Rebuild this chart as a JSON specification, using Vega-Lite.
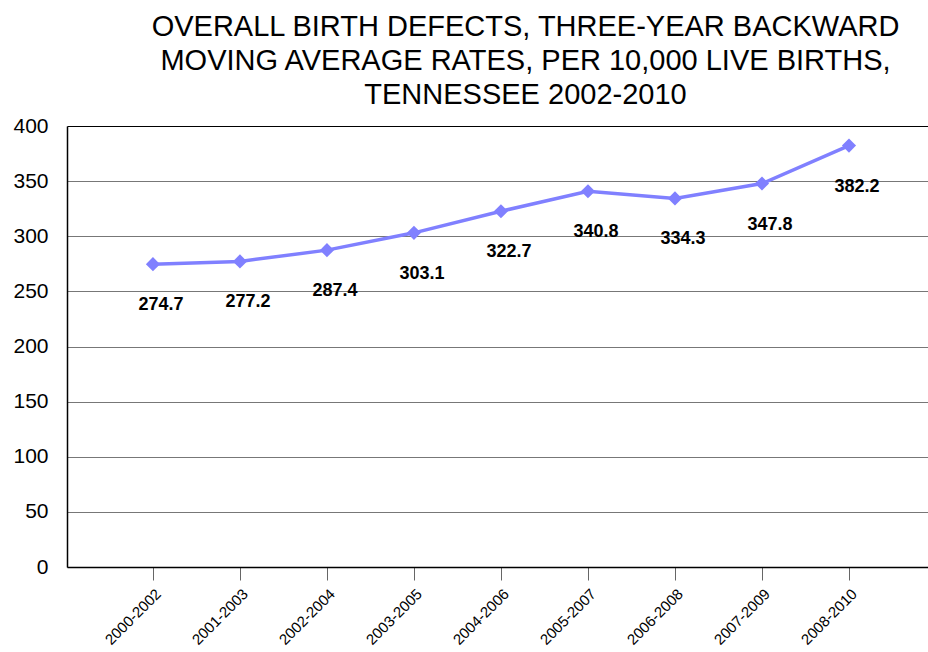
{
  "$schema": "https://vega.github.io/schema/vega-lite/v6.json",
  "width": 861,
  "height": 441,
  "autosize": {"type": "none"},
  "padding": {"left": 67, "top": 126, "right": 0, "bottom": 85},
  "background": "white",
  "title": {
    "text": ["OVERALL BIRTH DEFECTS, THREE-YEAR BACKWARD", "MOVING AVERAGE RATES, PER 10,000 LIVE BIRTHS,", "TENNESSEE 2002-2010"],
    "font": "Liberation Sans",
    "fontSize": 29,
    "fontWeight": "normal",
    "color": "black",
    "anchor": "middle",
    "dx": 28,
    "offset": 5,
    "lineHeight": 34
  },
  "config": {
    "view": {"stroke": null},
    "axis": {"labelFont": "Liberation Sans", "labelColor": "black"}
  },
  "data": {
    "values": [
      {"period": "2000-2002", "rate": 274.7},
      {"period": "2001-2003", "rate": 277.2},
      {"period": "2002-2004", "rate": 287.4},
      {"period": "2003-2005", "rate": 303.1},
      {"period": "2004-2006", "rate": 322.7},
      {"period": "2005-2007", "rate": 340.8},
      {"period": "2006-2008", "rate": 334.3},
      {"period": "2007-2009", "rate": 347.8},
      {"period": "2008-2010", "rate": 382.2}
    ]
  },
  "encoding": {
    "x": {
      "field": "period",
      "type": "ordinal",
      "sort": null,
      "scale": {"type": "point", "padding": 0.948, "align": 0.521},
      "axis": {
        "title": null,
        "labelAngle": -45,
        "labelFontSize": 15,
        "labelAlign": "right",
        "labelBaseline": "top",
        "labelPadding": 6,
        "tickSize": 13,
        "tickColor": "#666666",
        "domainColor": "black",
        "domainWidth": 1.5,
        "grid": false
      }
    },
    "y": {
      "field": "rate",
      "type": "quantitative",
      "scale": {"domain": [0, 400], "nice": false},
      "axis": {
        "title": null,
        "values": [0, 50, 100, 150, 200, 250, 300, 350, 400],
        "labelFontSize": 21,
        "labelPadding": 19,
        "ticks": false,
        "domainColor": "black",
        "domainWidth": 1.5,
        "gridColor": {"condition": {"test": "datum.value == 400", "value": "black"}, "value": "#777777"},
        "gridWidth": 1.2,
        "gridOpacity": 1
      }
    }
  },
  "layer": [
    {
      "mark": {"type": "line", "color": "#8080ff", "strokeWidth": 3.5}
    },
    {
      "mark": {"type": "point", "shape": "diamond", "filled": true, "color": "#8080ff", "size": 200, "opacity": 1}
    },
    {
      "mark": {"type": "text", "font": "Liberation Sans", "fontSize": 18, "fontWeight": "bold", "color": "black", "dx": 8, "dy": 41},
      "encoding": {"text": {"field": "rate", "type": "quantitative", "format": ".1f"}}
    }
  ]
}
